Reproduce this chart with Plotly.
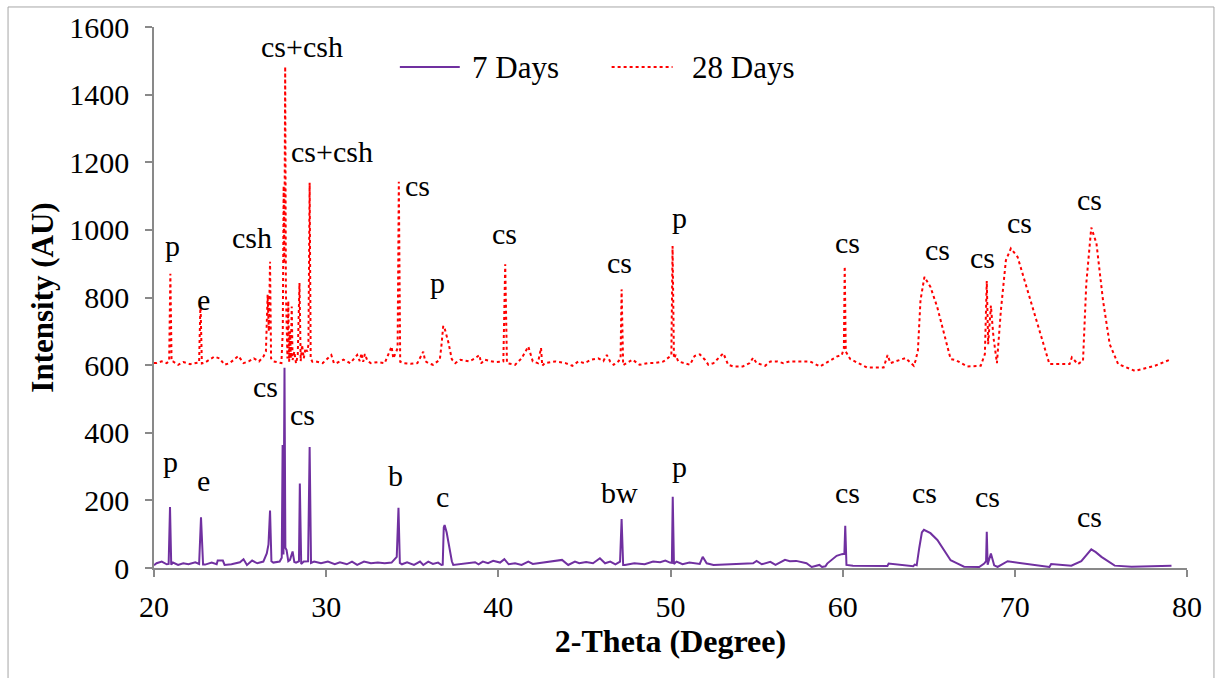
import plotly.graph_objects as go

# XRD pattern, 7 days of curing (2-theta in degrees, intensity in AU)
d7_theta = [
    20.00, 20.15, 20.45, 20.74, 20.85, 20.93, 21.00, 21.10, 21.40, 21.70,
    22.00, 22.40, 22.62, 22.73, 22.85, 22.97, 23.35, 23.64, 23.70, 24.00,
    24.10, 24.50, 24.99, 25.20, 25.40, 25.70, 26.00, 26.35, 26.55, 26.65,
    26.74, 26.82, 26.93, 27.30, 27.42, 27.47, 27.52, 27.58, 27.63, 27.70,
    27.80, 27.90, 28.05, 28.15, 28.25, 28.42, 28.47, 28.55, 28.70, 28.95,
    29.04, 29.12, 29.30, 29.70, 30.10, 30.50, 30.80, 31.20, 31.50, 31.80,
    32.20, 32.60, 33.00, 33.40, 33.80, 34.10, 34.20, 34.28, 34.40, 34.70,
    35.10, 35.35, 35.45, 35.64, 35.93, 36.20, 36.50, 36.70, 36.77, 36.83,
    36.88, 37.00, 37.15, 37.30, 37.38, 37.70, 38.20, 38.65, 38.85, 39.10,
    39.40, 39.70, 40.10, 40.35, 40.60, 40.97, 41.35, 41.74, 42.00, 42.60,
    43.10, 43.70, 44.06, 44.45, 44.70, 45.10, 45.50, 45.90, 46.20, 46.50,
    46.80, 47.07, 47.16, 47.25, 47.35, 47.90, 48.50, 48.99, 49.40, 49.70,
    49.97, 50.08, 50.13, 50.20, 50.35, 50.70, 51.10, 51.50, 51.70, 51.87,
    52.10, 52.50, 53.65, 54.80, 55.00, 55.30, 55.80, 56.10, 56.65, 56.93,
    57.30, 57.90, 58.20, 58.65, 58.80, 59.00, 59.10, 59.65, 59.95, 60.10,
    60.15, 60.22, 60.60, 61.50, 62.60, 62.67, 63.50, 64.10, 64.18, 64.30,
    64.45, 64.60, 64.72, 65.10, 65.50, 65.88, 66.27, 66.56, 67.05, 67.93,
    68.22, 68.33, 68.37, 68.42, 68.61, 68.80, 69.00, 69.58, 70.75, 72.01,
    72.11, 73.28, 73.86, 74.20, 74.44, 74.70, 75.03, 75.80, 76.78, 79.10,
]
d7_counts = [
    8, 14, 19, 11, 12, 180, 10, 16, 9, 14,
    11, 17, 12, 150, 10, 10, 16, 11, 22, 22,
    9, 11, 17, 26, 9, 22, 14, 19, 43, 70,
    170, 20, 16, 19, 30, 364, 40, 592, 60, 53,
    20, 24, 49, 18, 16, 20, 250, 12, 19, 20,
    358, 15, 19, 14, 19, 11, 17, 11, 19, 9,
    19, 14, 16, 14, 16, 33, 178, 15, 11, 17,
    9, 17, 19, 9, 19, 12, 16, 9, 10, 120,
    127, 105, 60, 20, 9, 11, 14, 17, 11, 19,
    14, 21, 16, 26, 11, 14, 9, 19, 12, 17,
    21, 24, 9, 19, 14, 18, 14, 29, 14, 19,
    11, 19, 145, 9, 9, 14, 11, 19, 17, 22,
    16, 15, 211, 12, 19, 11, 16, 14, 12, 33,
    14, 9, 11, 14, 21, 11, 18, 9, 24, 20,
    21, 14, 3, 9, 3, 5, 13, 36, 41, 42,
    125, 9, 7, 6, 6, 13, 8, 5, 10, 8,
    60, 105, 113, 103, 83, 53, 23, 16, 4, 3,
    13, 20, 107, 10, 43, 8, 3, 20, 12, 3,
    12, 7, 20, 42, 55, 47, 33, 7, 4, 7,
]

# XRD pattern, 28 days of curing
d28_theta = [
    20.00, 20.15, 20.45, 20.74, 20.88, 20.95, 21.02, 21.10, 21.40, 21.70,
    22.10, 22.50, 22.62, 22.70, 22.78, 22.97, 23.25, 23.50, 23.80, 24.10,
    24.40, 24.70, 24.90, 25.20, 25.50, 25.80, 26.10, 26.35, 26.50, 26.60,
    26.67, 26.74, 26.80, 26.95, 27.10, 27.40, 27.48, 27.53, 27.57, 27.62,
    27.66, 27.72, 27.75, 27.80, 27.85, 27.90, 27.95, 28.00, 28.05, 28.15,
    28.25, 28.35, 28.45, 28.52, 28.60, 28.70, 28.80, 28.90, 28.97, 29.04,
    29.10, 29.20, 29.40, 29.80, 30.30, 30.45, 30.60, 31.00, 31.40, 31.80,
    31.95, 32.05, 32.15, 32.25, 32.40, 32.60, 33.00, 33.40, 33.80, 33.90,
    34.05, 34.15, 34.22, 34.30, 34.50, 34.90, 35.30, 35.64, 35.75, 35.93,
    36.20, 36.60, 36.70, 36.80, 36.90, 37.10, 37.30, 37.50, 37.80, 38.30,
    38.65, 38.90, 39.00, 39.20, 39.80, 40.29, 40.40, 40.50, 40.97, 41.35,
    41.74, 42.00, 42.30, 42.48, 42.55, 42.70, 43.30, 43.90, 44.30, 44.65,
    45.00, 45.40, 45.80, 46.10, 46.30, 46.50, 46.70, 46.97, 47.10, 47.16,
    47.25, 47.45, 47.80, 48.20, 48.70, 49.10, 49.60, 49.95, 50.05, 50.12,
    50.20, 50.30, 50.45, 50.80, 51.13, 51.40, 51.70, 52.00, 52.20, 52.50,
    52.80, 53.07, 53.35, 53.65, 54.20, 54.60, 54.80, 55.00, 55.50, 55.80,
    56.20, 56.55, 56.93, 57.30, 57.80, 58.10, 58.68, 59.27, 59.65, 59.95,
    60.07, 60.12, 60.18, 60.44, 61.41, 62.38, 62.61, 62.77, 63.65, 64.13,
    64.23, 64.37, 64.52, 64.75, 65.10, 65.49, 65.88, 66.27, 66.56, 67.24,
    68.02, 68.26, 68.37, 68.45, 68.61, 68.76, 68.96, 69.19, 69.48, 69.77,
    70.16, 70.75, 71.33, 72.01, 72.50, 73.18, 73.31, 73.66, 73.96, 74.15,
    74.44, 74.74, 75.12, 75.51, 76.00, 76.97, 78.14, 79.10,
]
d28_counts = [
    606, 606, 611, 606, 612, 870, 612, 611, 601, 609,
    603, 606, 608, 788, 605, 608, 616, 625, 620, 601,
    606, 620, 627, 606, 611, 620, 611, 625, 640, 808,
    700, 906, 620, 611, 609, 606, 700, 1130, 900, 1483,
    820, 700, 620, 790, 610, 700, 620, 773, 615, 640,
    605, 630, 843, 612, 660, 620, 650, 640, 660, 1139,
    620, 610, 611, 606, 630, 606, 606, 616, 606, 630,
    612, 635, 610, 633, 612, 606, 609, 606, 655, 620,
    640, 650, 1142, 610, 606, 604, 606, 640, 612, 606,
    601, 616, 660, 716, 705, 667, 617, 606, 616, 611,
    620, 630, 605, 616, 609, 611, 898, 606, 601, 620,
    655, 611, 606, 651, 598, 606, 611, 606, 598, 611,
    606, 616, 620, 612, 630, 610, 601, 611, 620, 824,
    600, 606, 616, 601, 606, 606, 611, 625, 630, 952,
    620, 630, 611, 606, 601, 627, 632, 616, 601, 606,
    620, 635, 601, 596, 596, 606, 622, 606, 598, 611,
    611, 606, 611, 611, 613, 611, 596, 613, 625, 630,
    650, 892, 640, 618, 593, 593, 630, 606, 621, 598,
    613, 643, 792, 861, 831, 772, 693, 618, 615, 596,
    598, 633, 849, 662, 776, 682, 606, 762, 910, 945,
    920, 821, 722, 603, 603, 603, 623, 603, 613, 841,
    1007, 960, 792, 662, 603, 583, 598, 618,
]

# Phase labels: (text, 2-theta, intensity) for each pattern
labels_28 = [
    ("p", 21.05, 953), ("e", 22.85, 793), ("csh", 25.69, 976),
    ("cs+csh", 28.59, 1541), ("cs+csh", 30.34, 1231), ("cs", 35.33, 1130),
    ("p", 36.49, 843), ("cs", 40.38, 988), ("cs", 47.06, 905),
    ("p", 50.55, 1036), ("cs", 60.30, 962), ("cs", 65.53, 941),
    ("cs", 68.14, 917), ("cs", 70.29, 1021), ("cs", 74.36, 1089),
]
labels_7 = [
    ("p", 20.93, 314), ("e", 22.85, 260), ("cs", 26.45, 536),
    ("cs", 28.65, 453), ("b", 34.05, 275), ("c", 36.78, 210),
    ("bw", 47.06, 222), ("p", 50.55, 299), ("cs", 60.30, 222),
    ("cs", 64.77, 222), ("cs", 68.43, 210), ("cs", 74.36, 151),
]

series_names = ["7 Days", "28 Days"]
PURPLE = "#7030A0"
RED = "#FF0000"
AXIS = "#898989"
FONT = "Times New Roman, Liberation Serif, serif"

fig = go.Figure()
fig.add_trace(go.Scatter(x=d7_theta, y=d7_counts, mode="lines", name=series_names[0],
                         line=dict(color=PURPLE, width=2), showlegend=False))
fig.add_trace(go.Scatter(x=d28_theta, y=d28_counts, mode="lines", name=series_names[1],
                         line=dict(color=RED, width=2, dash="dot"), showlegend=False))

annotations = []
for text, x, y in labels_28 + labels_7:
    annotations.append(dict(x=x, y=y, xref="x", yref="y", text=text, showarrow=False,
                            xanchor="center", yanchor="middle",
                            font=dict(family=FONT, size=30, color="black")))

# Legend drawn as line samples with text
legend_items = [(series_names[0], PURPLE, "solid", 0.238, 0.296, 0.306),
                (series_names[1], RED, "dot", 0.443, 0.502, 0.519)]
shapes = []
for name, color, dash, x0, x1, xt in legend_items:
    shapes.append(dict(type="line", xref="paper", yref="paper", x0=x0, x1=x1,
                       y0=0.926, y1=0.926, line=dict(color=color, width=2, dash=dash)))
    annotations.append(dict(x=xt, y=0.926, xref="paper", yref="paper", text=name,
                            showarrow=False, xanchor="left", yanchor="middle",
                            font=dict(family=FONT, size=31, color="black")))

# Outer chart border
shapes.append(dict(type="rect", xref="paper", yref="paper", x0=-0.1413, x1=1.0261,
                   y0=-0.23, y1=1.037, line=dict(color="#A6A6A6", width=1), layer="below"))

fig.update_layout(
    width=1219, height=678,
    margin=dict(l=154, r=32, t=27, b=110, autoexpand=False),
    paper_bgcolor="white", plot_bgcolor="white",
    font=dict(family=FONT, size=30, color="black"),
    shapes=shapes, annotations=annotations,
)
fig.update_xaxes(range=[20, 80], dtick=10, tick0=20, showline=True, linecolor=AXIS, linewidth=1.5,
                 ticks="outside", ticklen=7, tickcolor=AXIS, tickwidth=1.5, showgrid=False,
                 zeroline=False, automargin=False,
                 tickfont=dict(family=FONT, size=30), ticklabelstandoff=4,
                 title=dict(text="<b>2-Theta (Degree)</b>", font=dict(family=FONT, size=32), standoff=6))
fig.update_yaxes(range=[0, 1600], dtick=200, showline=True, linecolor=AXIS, linewidth=1.5,
                 ticks="outside", ticklen=7, tickcolor=AXIS, tickwidth=1.5, showgrid=False,
                 zeroline=False, automargin=False,
                 tickfont=dict(family=FONT, size=30), ticklabelstandoff=10,
                 title=dict(text="<b>Intensity (AU)</b>", font=dict(family=FONT, size=31), standoff=6))

fig.write_html("out.html")
